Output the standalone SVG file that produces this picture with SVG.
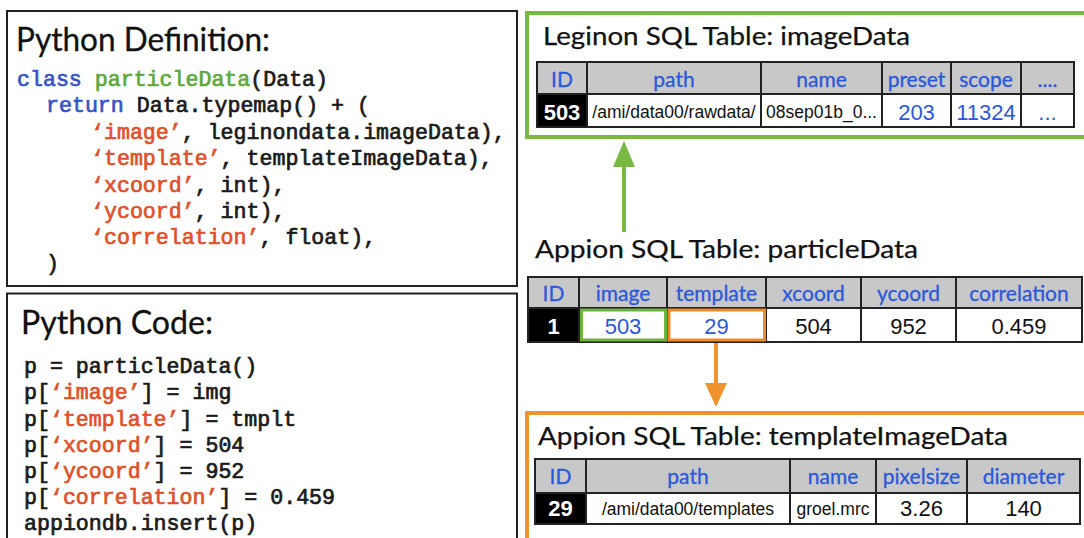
<svg xmlns="http://www.w3.org/2000/svg" width="1084" height="538" viewBox="0 0 1084 538">
<style>
.bg{fill:#ffffff}
.box{fill:#ffffff;stroke:#222;stroke-width:2}
.title{font-family:Lato,"Open Sans",sans-serif;font-size:33px;fill:#111;stroke:#111;stroke-width:0.3}
.ttitle{font-family:Lato,"Open Sans",sans-serif;font-size:25px;fill:#111;stroke:#111;stroke-width:0.25}
.code{font-family:"Liberation Mono","DejaVu Sans Mono",monospace;font-size:21.6px;fill:#1a1a1a;stroke:#1a1a1a;stroke-width:0.7}
.kw{fill:#3553c8;stroke:#3553c8}
.cls{fill:#5ea83a;stroke:#5ea83a}
.str{fill:#e0502a;stroke:#e0502a}
.hdr{fill:#c8c8c8}
.cell{fill:#ffffff}
.idc{fill:#000000}
.grid{fill:none;stroke:#222;stroke-width:2}
.ht{font-family:Lato,"Open Sans",sans-serif;font-size:21px;fill:#2a58dc;stroke:#2a58dc;stroke-width:0.3;text-anchor:middle}
.v{font-family:"Liberation Sans",Arial,sans-serif;font-size:22px;fill:#111;text-anchor:middle}
.vs{font-family:"Liberation Sans",Arial,sans-serif;font-size:17.5px;fill:#111;text-anchor:middle}
.vb{fill:#2a58dc}
.idt{font-family:"Liberation Sans",Arial,sans-serif;font-size:22px;font-weight:bold;fill:#ffffff;text-anchor:middle}
.gbox{fill:#ffffff;stroke:#78b843;stroke-width:4}
.obox{fill:#ffffff;stroke:#f0922e;stroke-width:4}
</style>
<rect class="bg" x="0" y="0" width="1084" height="538"/>

<g id="python-definition">
<rect class="box" x="7" y="11" width="510" height="275"/>
<text class="title" x="16" y="51" textLength="254" lengthAdjust="spacingAndGlyphs">Python Definition:</text>
<text class="code" x="17" y="86"><tspan class="kw">class</tspan> <tspan class="cls">particleData</tspan>(Data)</text>
<text class="code" x="46" y="112"><tspan class="kw">return</tspan> Data.typemap() + (</text>
<text class="code" x="91" y="138.5"><tspan class="str">‘image’</tspan>, leginondata.imageData),</text>
<text class="code" x="91" y="165"><tspan class="str">‘template’</tspan>, templateImageData),</text>
<text class="code" x="91" y="191.5"><tspan class="str">‘xcoord’</tspan>, int),</text>
<text class="code" x="91" y="218"><tspan class="str">‘ycoord’</tspan>, int),</text>
<text class="code" x="91" y="244"><tspan class="str">‘correlation’</tspan>, float),</text>
<text class="code" x="46" y="270">)</text>
</g>

<g id="python-code">
<rect class="box" x="7" y="293.5" width="510" height="260"/>
<text class="title" x="21" y="334" textLength="192" lengthAdjust="spacingAndGlyphs">Python Code:</text>
<text class="code" x="24" y="373">p = particleData()</text>
<text class="code" x="24" y="399">p[<tspan class="str">‘image’</tspan>] = img</text>
<text class="code" x="24" y="425.5">p[<tspan class="str">‘template’</tspan>] = tmplt</text>
<text class="code" x="24" y="451.5">p[<tspan class="str">‘xcoord’</tspan>] = 504</text>
<text class="code" x="24" y="478">p[<tspan class="str">‘ycoord’</tspan>] = 952</text>
<text class="code" x="24" y="504">p[<tspan class="str">‘correlation’</tspan>] = 0.459</text>
<text class="code" x="24" y="530">appiondb.insert(p)</text>
</g>

<g id="imageData-table">
<rect class="gbox" x="527" y="13" width="600" height="124"/>
<text class="ttitle" x="543" y="45" textLength="367" lengthAdjust="spacingAndGlyphs">Leginon SQL Table: imageData</text>
<rect class="hdr" x="537" y="62" width="537" height="32"/>
<rect class="cell" x="537" y="94" width="537" height="33"/>
<rect class="idc" x="537" y="94" width="50" height="33"/>
<path class="grid" d="M537 62H1074V127H537Z M537 94H1074 M587 62V127 M761 62V127 M882 62V127 M951 62V127 M1021 62V127"/>
<text class="ht" x="562" y="87">ID</text>
<text class="ht" x="674" y="87">path</text>
<text class="ht" x="821.5" y="87">name</text>
<text class="ht" x="916.5" y="87">preset</text>
<text class="ht" x="986" y="87">scope</text>
<text class="ht" x="1047.5" y="87">....</text>
<text class="idt" x="562" y="120">503</text>
<text class="vs" x="674" y="118">/ami/data00/rawdata/</text>
<text class="vs" x="821.5" y="118">08sep01b_0...</text>
<text class="v vb" x="916.5" y="120">203</text>
<text class="v vb" x="986" y="120">11324</text>
<text class="v vb" x="1047.5" y="120">...</text>
</g>

<g id="particleData-table">
<text class="ttitle" x="535" y="258" textLength="383" lengthAdjust="spacingAndGlyphs">Appion SQL Table: particleData</text>
<rect class="hdr" x="528" y="277" width="554" height="31"/>
<rect class="cell" x="528" y="308" width="554" height="34"/>
<rect class="idc" x="528" y="308" width="51" height="34"/>
<path class="grid" d="M528 277H1082V342H528Z M528 308H1082 M579 277V342 M667 277V342 M766 277V342 M861 277V342 M956 277V342"/>
<rect x="581.5" y="310" width="84" height="30" fill="none" stroke="#6cb33f" stroke-width="3"/>
<rect x="669" y="310" width="95.5" height="30" fill="none" stroke="#ee8a2a" stroke-width="3"/>
<text class="ht" x="553.5" y="301">ID</text>
<text class="ht" x="623" y="301">image</text>
<text class="ht" x="716.5" y="301">template</text>
<text class="ht" x="813.5" y="301">xcoord</text>
<text class="ht" x="908.5" y="301">ycoord</text>
<text class="ht" x="1019" y="301">correlation</text>
<text class="idt" x="553.5" y="334">1</text>
<text class="v vb" x="623" y="334">503</text>
<text class="v vb" x="716.5" y="334">29</text>
<text class="v" x="813.5" y="334">504</text>
<text class="v" x="908.5" y="334">952</text>
<text class="v" x="1019" y="334">0.459</text>
</g>

<g id="templateImageData-table">
<rect class="obox" x="527" y="413" width="600" height="200"/>
<text class="ttitle" x="538" y="445" textLength="470" lengthAdjust="spacingAndGlyphs">Appion SQL Table: templateImageData</text>
<rect class="hdr" x="535" y="459" width="545" height="34"/>
<rect class="cell" x="535" y="493" width="545" height="31"/>
<rect class="idc" x="535" y="493" width="51" height="31"/>
<path class="grid" d="M535 459H1080V524H535Z M535 493H1080 M586 459V524 M790 459V524 M876 459V524 M967 459V524"/>
<text class="ht" x="560.5" y="484">ID</text>
<text class="ht" x="688" y="484">path</text>
<text class="ht" x="833" y="484">name</text>
<text class="ht" x="921.5" y="484">pixelsize</text>
<text class="ht" x="1023.5" y="484">diameter</text>
<text class="idt" x="560.5" y="516">29</text>
<text class="vs" x="688" y="515">/ami/data00/templates</text>
<text class="vs" x="833" y="515">groel.mrc</text>
<text class="v" x="921.5" y="516">3.26</text>
<text class="v" x="1023.5" y="516">140</text>
</g>

<g id="connectors">
<line x1="624" y1="232" x2="624" y2="162" stroke="#78b843" stroke-width="4"/>
<polygon points="624,141 613,167 635,167" fill="#78b843"/>
<line x1="716" y1="343" x2="716" y2="387" stroke="#f0922e" stroke-width="4"/>
<polygon points="716,407 705,383 727,383" fill="#f0922e"/>
</g>
</svg>
